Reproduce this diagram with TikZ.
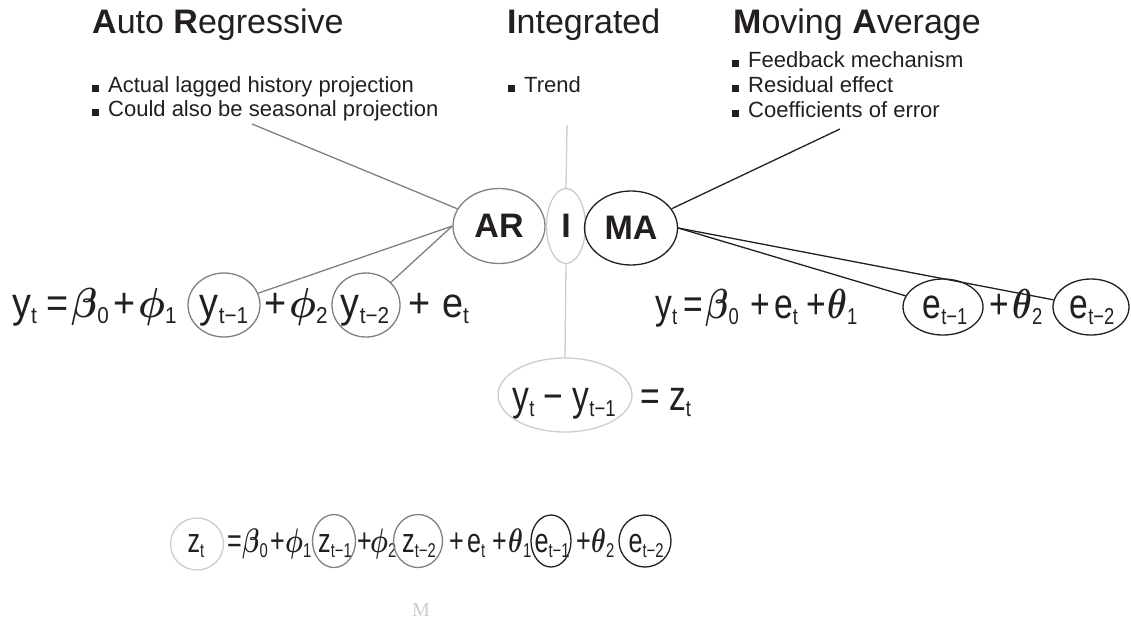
\RequirePackage{fix-cm}
\documentclass[tikz,border=0pt]{standalone}
\usepackage{graphicx}
\usepackage{fontspec}
\setmainfont{Liberation Sans}
\newfontfamily\logofont{Liberation Serif}
\usetikzlibrary{shapes.geometric}
\definecolor{txt}{HTML}{231F20}
\definecolor{argray}{HTML}{808080}
\definecolor{igray}{HTML}{CCCCCC}
\definecolor{mablack}{HTML}{231F20}
\newcommand\EA[1]{\scalebox{0.9}[1]{\fontsize{42}{42}\selectfont #1}}
\newcommand\EC[1]{\scalebox{0.8}[1]{\fontsize{42}{42}\selectfont #1}}
\newcommand\sbA[1]{\raisebox{-6pt}{\fontsize{23}{23}\selectfont #1}}
\newcommand\EB[1]{\scalebox{0.74}[1]{\fontsize{34}{34}\selectfont #1}}
\newcommand\sbB[1]{\raisebox{-5pt}{\fontsize{20}{20}\selectfont #1}}
\newcommand\gk[1]{{\boldmath$#1$}}
\newcommand\bul{\rule[0.5pt]{7pt}{7pt}\hspace{9pt}}
\tikzset{
  title/.style={anchor=base west, inner sep=0, font=\fontsize{34}{34}\selectfont, text=txt},
  bullet/.style={anchor=base west, inner sep=0, font=\fontsize{22}{22}\selectfont, text=txt},
  eq/.style={anchor=base west, inner sep=0, text=txt},
  eqc/.style={anchor=base, inner sep=0, text=txt},
  ring/.style={ellipse, draw, line width=1.3pt, inner sep=0},
  big/.style={ring, font=\fontsize{34}{34}\selectfont\bfseries, text=txt},
  link/.style={line width=1.3pt}
}
\begin{document}
\begin{tikzpicture}[x=1pt,y=-1pt]
\useasboundingbox (0,0) rectangle (1131,625);
% titles
\node[title] (tAR) at (92,33) {\textbf{A}uto \textbf{R}egressive};
\node[title] (tI) at (507,33) {\textbf{I}ntegrated};
\node[title] (tMA) at (733,33) {\textbf{M}oving \textbf{A}verage};
% bullets
\node[bullet] (b1) at (92,92) {\bul Actual lagged history projection};
\node[bullet] (b2) at (92,116) {\bul Could also be seasonal projection};
\node[bullet] (b3) at (508,92) {\bul Trend};
\node[bullet] (b4) at (732,67) {\bul Feedback mechanism};
\node[bullet] (b5) at (732,92) {\bul Residual effect};
\node[bullet] (b6) at (732,117) {\bul Coefficients of error};
% central ellipses
\node[big, draw=argray, minimum width=92, minimum height=75] (AR) at (499,226) {AR};
\node[big, draw=igray, minimum width=39, minimum height=75] (I) at (566,226) {I};
\node[big, draw=mablack, minimum width=93, minimum height=74] (MA) at (631,228) {MA};
\coordinate (arT) at (252,124);
\coordinate (iT) at (567,125);
\coordinate (maT) at (840,129);
\draw[link, argray] (arT) -- (AR);
\draw[link, igray] (iT) -- (I.north);
\draw[link, mablack] (maT) -- (MA);
% left equation (AR)
\node[eq] (l1) at (12,317) {\EA{y\sbA{t}}};
\node[eq] (l2) at (46,317) {\EA{=}};
\node[eq] (l3) at (71,317) {\EA{\gk{\beta}\sbA{0}}};
\node[eq] (l4) at (113,317) {\EA{+}};
\node[eq] (l5) at (138,317) {\EA{\gk{\phi}\sbA{1}}};
\node[eqc] (l6) at (224,317) {\EA{y\sbA{t−1}}};
\node[ring, draw=argray, minimum width=72, minimum height=64] (cy1) at (224,305) {};
\node[eq] (l7) at (264,317) {\EA{+}};
\node[eq] (l8) at (289,317) {\EA{\gk{\phi}\sbA{2}}};
\node[eqc] (l9) at (365,317) {\EA{y\sbA{t−2}}};
\node[ring, draw=argray, minimum width=68, minimum height=64] (cy2) at (366,305) {};
\node[eq] (l10) at (408,317) {\EA{+}};
\node[eq] (l11) at (442,317) {\EA{e\sbA{t}}};
\draw[link, argray] (AR.west) -- (cy1);
\draw[link, argray] (AR.west) -- (cy2);
% right equation (MA)
\node[eq] (r1) at (655,318) {\EC{y\sbA{t}}};
\node[eq] (r2) at (683,318) {\EC{=}};
\node[eq] (r3) at (705,318) {\EC{\gk{\beta}\sbA{0}}};
\node[eq] (r4) at (750,318) {\EC{+}};
\node[eq] (r5) at (774,318) {\EC{e\sbA{t}}};
\node[eq] (r6) at (806,318) {\EC{+}};
\node[eq] (r7) at (827,318) {\EC{\gk{\theta}\sbA{1}}};
\node[eqc] (r8) at (945,318) {\EC{e\sbA{t−1}}};
\node[ring, draw=mablack, minimum width=80, minimum height=56] (ce1) at (943,307) {};
\node[eq] (r9) at (989,318) {\EC{+}};
\node[eq] (r10) at (1012,318) {\EC{\gk{\theta}\sbA{2}}};
\node[eqc] (r11) at (1092,318) {\EC{e\sbA{t−2}}};
\node[ring, draw=mablack, minimum width=76, minimum height=56] (ce2) at (1091,307) {};
\draw[link, mablack] (MA.east) -- (ce1);
\draw[link, mablack] (MA.east) -- (ce2);
% middle equation (I)
\node[eqc] (m1) at (564,410) {\EC{y\sbA{t} − y\sbA{t−1}}};
\node[ring, draw=igray, minimum width=134, minimum height=74] (cm) at (565,395) {};
\node[eq] (m2) at (640,410) {\EC{= z\sbA{t}}};
\draw[link, igray] (I.south) -- (cm.north);
% bottom equation
\node[eqc] (z0) at (196,552) {\EB{z\sbB{t}}};
\node[ring, draw=igray, minimum width=53, minimum height=52] (cz0) at (197,544) {};
\node[eq] (n1) at (227,552) {\EB{=}};
\node[eq] (n2) at (242,552) {\EB{\gk{\beta}\sbB{0}}};
\node[eq] (n3) at (270,552) {\EB{+}};
\node[eq] (n4) at (285,552) {\EB{\gk{\phi}\sbB{1}}};
\node[eqc] (n5) at (335,552) {\EB{z\sbB{t−1}}};
\node[ring, draw=argray, minimum width=43, minimum height=53] (cz1) at (334,541) {};
\node[eq] (n6) at (357,552) {\EB{+}};
\node[eq] (n7) at (370,552) {\EB{\gk{\phi}\sbB{2}}};
\node[eqc] (n8) at (419,552) {\EB{z\sbB{t−2}}};
\node[ring, draw=argray, minimum width=49, minimum height=53] (cz2) at (418,541) {};
\node[eq] (n9) at (449,552) {\EB{+}};
\node[eq] (n10) at (467,552) {\EB{e\sbB{t}}};
\node[eq] (n11) at (492,552) {\EB{+}};
\node[eq] (n12) at (508,552) {\EB{\gk{\theta}\sbB{1}}};
\node[eqc] (n13) at (552,552) {\EB{e\sbB{t−1}}};
\node[ring, draw=mablack, minimum width=40, minimum height=52] (cz3) at (551,541) {};
\node[eq] (n14) at (576,552) {\EB{+}};
\node[eq] (n15) at (591,552) {\EB{\gk{\theta}\sbB{2}}};
\node[eqc] (n16) at (646,552) {\EB{e\sbB{t−2}}};
\node[ring, draw=mablack, minimum width=52, minimum height=52] (cz4) at (645,541) {};
% logo
\node[inner sep=0, text=igray, font=\logofont\fontsize{20}{20}\selectfont] (logo) at (421,610) {M};
\end{tikzpicture}
\end{document}
